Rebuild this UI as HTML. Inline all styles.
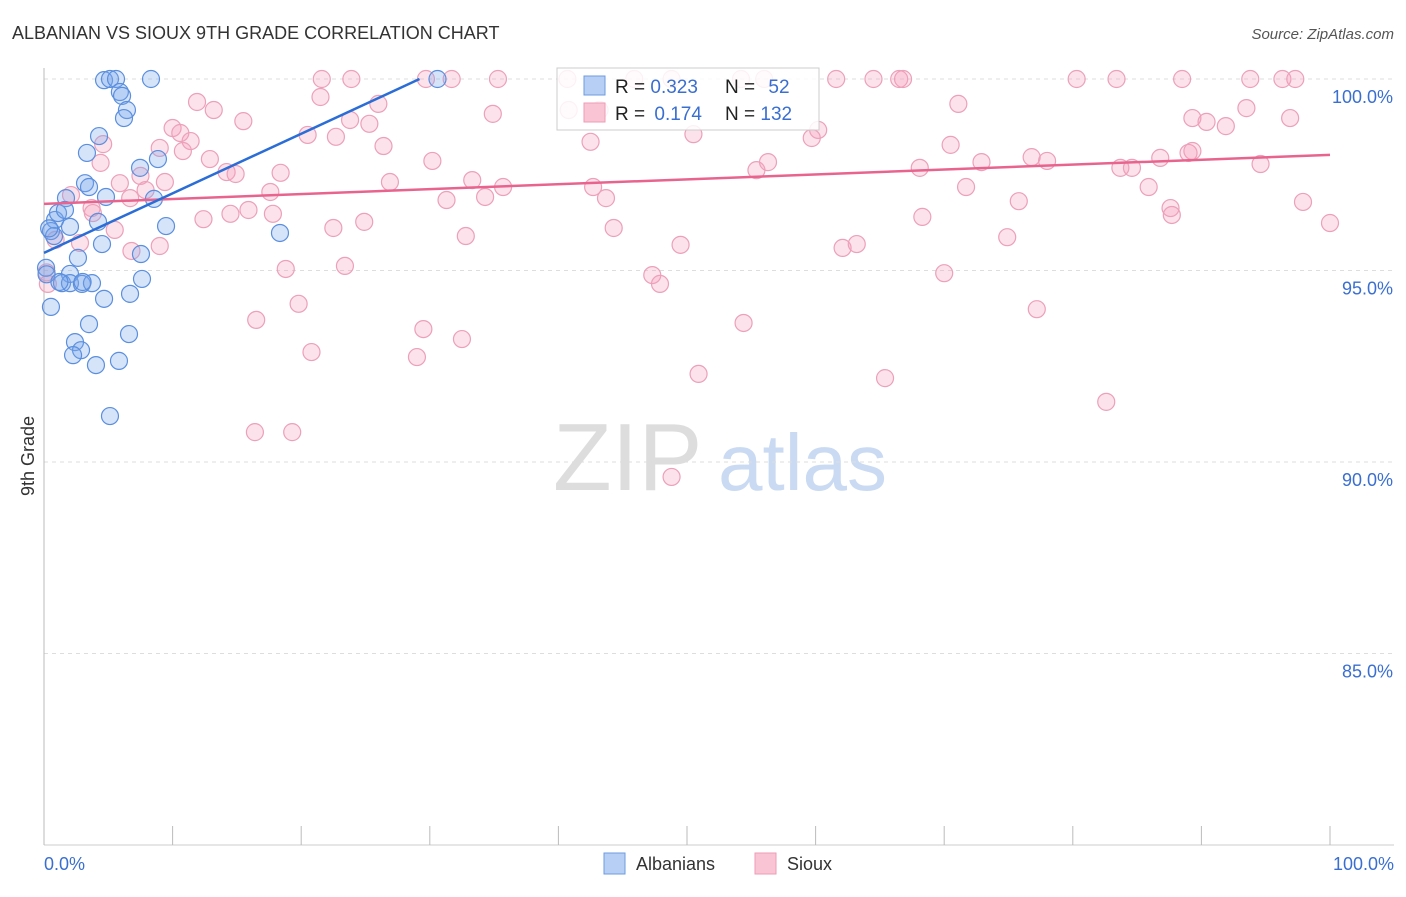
<!DOCTYPE html>
<html><head><meta charset="utf-8"><style>
body{margin:0;background:#fff;font-family:"Liberation Sans",sans-serif;}
svg text{font-family:"Liberation Sans",sans-serif;}
</style></head><body>
<svg id="chart" width="1406" height="892" xmlns="http://www.w3.org/2000/svg">
<text x="12" y="39" font-size="18" fill="#333">ALBANIAN VS SIOUX 9TH GRADE CORRELATION CHART</text>
<text x="1394" y="39" font-size="15" fill="#555" font-style="italic" text-anchor="end">Source: ZipAtlas.com</text>
<g><text x="553" y="490" font-size="96" font-family="Liberation Serif" fill="#ddd">ZIP</text><text x="718" y="490" font-size="80" fill="#c9daf2">atlas</text></g>
<g id="grid"></g><g id="axes"></g><g id="pts"></g><g id="trends"></g>
<text transform="translate(34,456) rotate(-90)" font-size="18" fill="#333" text-anchor="middle">9th Grade</text>
<text x="44" y="870" font-size="18" fill="#3a6fd0">0.0%</text>
<text x="1394" y="870" font-size="18" fill="#3a6fd0" text-anchor="end">100.0%</text>
<g>
<rect x="557" y="68" width="262" height="62" fill="#fff" fill-opacity="0.85" stroke="#ccc"/>
<rect x="584" y="76" width="21" height="19" fill="#b7cff4" stroke="#6d9be0"/>
<rect x="584" y="103" width="21" height="19" fill="#f9c4d4" stroke="#ee9bb6"/>
<text x="615" y="93" font-size="19" fill="#222">R = <tspan fill="#3a6fd0">0.323</tspan></text>
<text x="725" y="93" font-size="19" fill="#222">N = <tspan fill="#3a6fd0" dx="8">52</tspan></text>
<text x="615" y="120" font-size="19" fill="#222">R = <tspan fill="#3a6fd0" dx="4">0.174</tspan></text>
<text x="725" y="120" font-size="19" fill="#222">N = <tspan fill="#3a6fd0">132</tspan></text>
</g>
<g>
<rect x="604" y="853" width="21" height="21" fill="#b7cff4" stroke="#6d9be0"/>
<text x="636" y="870" font-size="18" fill="#333">Albanians</text>
<rect x="755" y="853" width="21" height="21" fill="#f9c4d4" stroke="#ee9bb6"/>
<text x="787" y="870" font-size="18" fill="#333">Sioux</text>
</g>
</svg>
<script>
const yTicks=[100,95,90,85];
const yTickLabels=["100.0%","95.0%","90.0%","85.0%"];
const xTicks=[0,10,20,30,40,50,60,70,80,90,100];
const blueX=[4.67,5.13,5.6,8.32,30.6,5.9,6.07,6.45,6.22,4.28,3.34,7.47,8.86,3.19,3.5,1.71,4.82,8.55,0.86,4.2,9.49,18.35,2.02,0.54,0.78,4.51,7.54,2.64,0.16,2.02,1.4,2.02,2.95,3.73,7.62,4.67,6.69,0.54,3.5,6.61,2.41,2.88,2.26,4.04,5.83,5.13,1.09,1.63,0.2,1.2,3.0,0.4];
const blueY=[99.97,100,100,100,100,99.66,99.56,99.19,98.98,98.51,98.07,97.68,97.91,97.28,97.18,96.89,96.92,96.87,96.32,96.27,96.16,95.98,96.14,96.03,95.9,95.69,95.43,95.33,95.07,94.91,94.67,94.67,94.65,94.67,94.78,94.26,94.39,94.05,93.6,93.34,93.13,92.92,92.79,92.53,92.64,91.2,96.5,96.58,94.9,94.7,94.7,96.1];
const pinkX=[21.6,23.9,29.7,31.7,35.3,40.7,45.9,48.8,54.2,56.0,61.6,64.5,66.5,66.8,80.3,83.4,88.5,93.8,96.3,97.3,11.9,13.2,15.5,10.0,10.6,11.4,4.6,9.0,10.8,12.9,14.2,14.9,18.4,5.9,7.5,9.4,7.9,17.6,4.4,2.1,6.7,3.7,14.5,15.9,17.8,12.4,5.5,2.8,6.8,9.0,18.8,16.5,19.8,20.8,16.4,19.3,21.5,20.5,23.8,26.0,25.3,26.4,26.9,22.7,22.5,24.9,23.4,29.5,32.5,29.0,30.2,33.3,31.3,34.3,35.7,32.8,34.9,42.5,40.8,42.7,43.7,44.3,49.5,47.3,47.9,50.9,50.5,54.4,55.4,56.3,60.2,59.7,62.1,63.2,48.8,68.1,68.3,70.5,71.1,71.7,70.0,72.9,74.9,75.8,76.8,78.0,77.2,65.4,82.6,83.7,84.6,85.9,86.8,87.6,87.7,89.0,89.3,90.4,89.3,91.9,93.5,94.6,96.9,97.9,100,0.3,0.9,3.8,43.2,0.2];
const pinkY=[100,100,100,100,100,100,100,100,100,100,100,100,100,100,100,100,100,100,100,100,99.4,99.19,98.9,98.72,98.59,98.38,98.3,98.2,98.12,97.91,97.57,97.52,97.55,97.28,97.47,97.31,97.1,97.05,97.81,96.97,96.89,96.63,96.48,96.58,96.48,96.34,96.06,95.72,95.51,95.64,95.04,93.71,94.13,92.87,90.78,90.78,99.53,98.54,98.93,99.35,98.83,98.25,97.31,98.49,96.11,96.27,95.12,93.47,93.21,92.74,97.86,97.36,96.84,96.92,97.18,95.9,99.09,98.36,99.19,97.18,96.89,96.11,95.67,94.88,94.65,92.3,98.56,93.63,97.62,97.83,98.67,98.46,95.59,95.69,89.61,97.68,96.4,98.28,99.35,97.18,94.93,97.83,95.87,96.81,97.96,97.86,93.99,92.19,91.57,97.68,97.68,97.18,97.94,96.63,96.45,98.07,98.98,98.88,98.12,98.77,99.24,97.78,98.98,96.79,96.24,94.65,95.8,96.5,99.19,94.95];
const blueTrendX=[0,29.2];
const blueTrendY=[95.46,100];
const pinkTrendX=[0,100];
const pinkTrendY=[96.74,98.02];

const NS="http://www.w3.org/2000/svg";
const X=v=>44+v*12.86;
const Y=v=>79+(100-v)*38.3;
function mk(tag,attrs,parent){const e=document.createElementNS(NS,tag);for(const k in attrs)e.setAttribute(k,attrs[k]);document.getElementById(parent).appendChild(e);return e;}
yTicks.forEach((t,i)=>{
  const l=mk('line',{x1:44,x2:1394,y1:Y(t),y2:Y(t),stroke:'#ddd','stroke-dasharray':'4,4'},'grid');
  
  
  const tx=mk('text',{x:1393,y:Y(t)+24,'font-size':18,fill:'#3a6fd0','text-anchor':'end'},'grid');
  tx.textContent=yTickLabels[i];
  
  
});
const ax=mk('line',{x1:44,x2:44,y1:68,y2:845,stroke:'#bbb'},'axes');


const bx=mk('line',{x1:44,x2:1394,y1:845,y2:845,stroke:'#ccc'},'axes');


xTicks.forEach(t=>{
  const l=mk('line',{x1:X(t),x2:X(t),y1:826,y2:845,stroke:'#bbb'},'axes');
  
  
});
pinkX.forEach((v,i)=>{
  const c=mk('circle',{cx:X(v),cy:Y(pinkY[i]),r:8.5,fill:'rgba(244,160,188,0.3)',stroke:'#eca0ba','stroke-width':1.2},'pts');
  
  
});
blueX.forEach((v,i)=>{
  const c=mk('circle',{cx:X(v),cy:Y(blueY[i]),r:8.5,fill:'rgba(120,165,235,0.3)',stroke:'#5b8fde','stroke-width':1.2},'pts');
  
  
});
const t1=mk('line',{x1:X(pinkTrendX[0]),y1:Y(pinkTrendY[0]),x2:X(pinkTrendX[1]),y2:Y(pinkTrendY[1]),stroke:'#e8648f','stroke-width':2.5},'trends');


const t2=mk('line',{x1:X(blueTrendX[0]),y1:Y(blueTrendY[0]),x2:X(blueTrendX[1]),y2:Y(blueTrendY[1]),stroke:'#2a6dd6','stroke-width':2.5},'trends');


</script>
</body></html>
